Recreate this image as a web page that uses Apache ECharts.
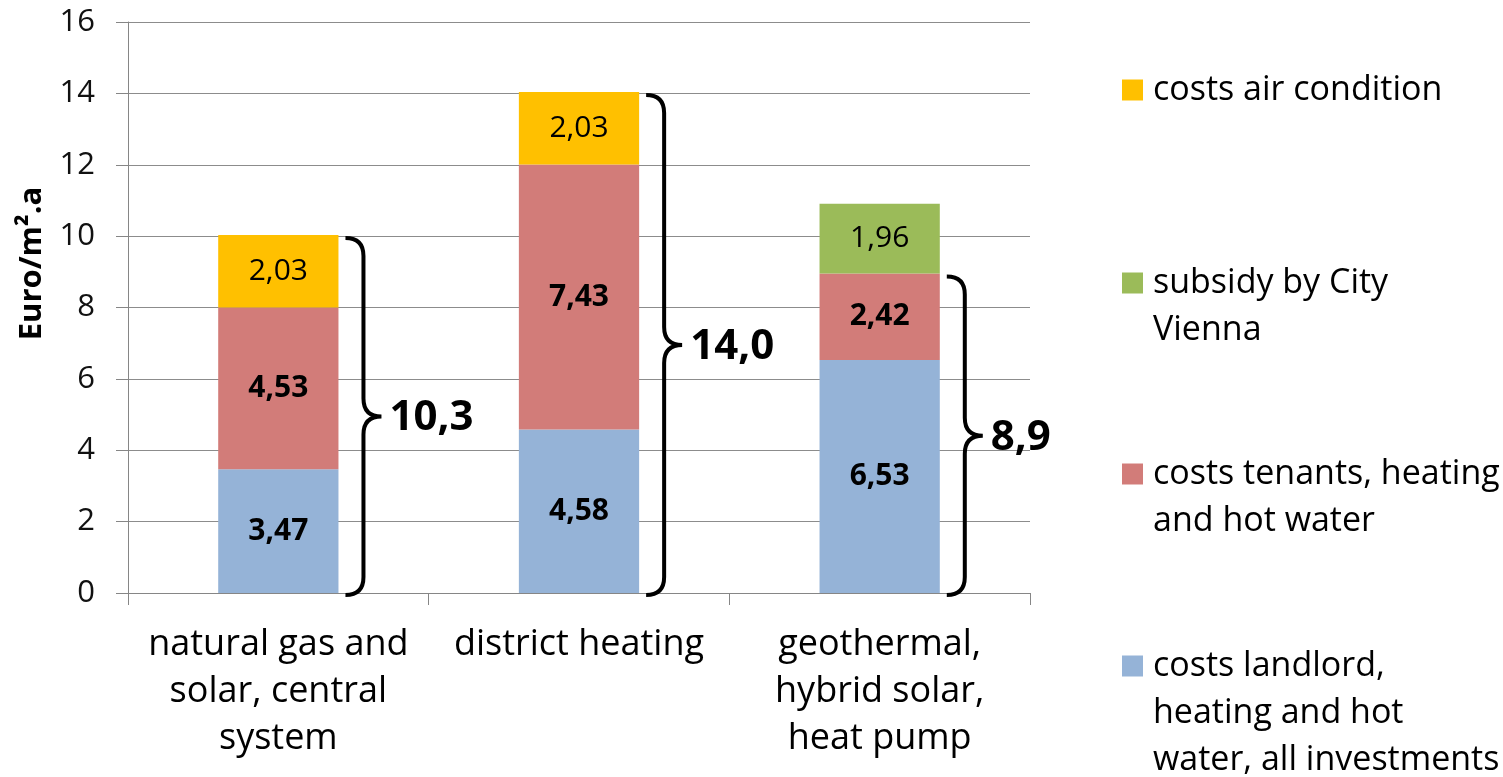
<!DOCTYPE html>
<html>
<head>
<meta charset="utf-8">
<script src="https://cdn.jsdelivr.net/npm/echarts@6/dist/echarts.min.js"></script>
<style>
html,body{margin:0;padding:0;background:#fff;}
#chart{width:1503px;height:777px;}
</style>
</head>
<body>
<div id="chart"></div>
<script>
var categories = ['natural gas and\nsolar, central\nsystem', 'district heating', 'geothermal,\nhybrid solar,\nheat pump'];
var landlord = [3.47, 4.58, 6.53];
var tenants = [4.53, 7.43, 2.42];
var airCondition = [2.03, 2.03, null];
var subsidy = [null, null, 1.96];
var braceTop = [10.03, 14.04, 8.95];
var braceLabels = ['10,3', '14,0', '8,9'];
var yTicks = { min: 0, max: 16, interval: 2 };

var seriesNames = {
  landlord: 'costs landlord,\nheating and hot\nwater, all investments',
  tenants: 'costs tenants, heating\nand hot water',
  air: 'costs air condition',
  subsidy: 'subsidy by City\nVienna'
};

var FONT = '"Open Sans", "Noto Sans", sans-serif';
var LH = 47;
var chart = echarts.init(document.getElementById('chart'));

function fmt(p) { return p.value == null ? '' : p.value.toFixed(2).replace('.', ','); }

function barLabel(bold) {
  return { show: true, position: 'inside', formatter: fmt, color: '#000', fontSize: 30, fontFamily: FONT, fontWeight: bold ? 'bold' : 'normal' };
}

// legend text: first line aligned with the marker (leading blank lines balance the block)
function legendText(name) {
  var lines = name.split('\n');
  var out = [];
  for (var k = 0; k < lines.length - 1; k++) out.push('{t|\u00a0}');
  lines.forEach(function (l) { out.push('{t|' + l + '}'); });
  return out.join('\n');
}

function legendFor(name, centerY) {
  var n = name.split('\n').length;
  return {
    data: [name], left: 1122, top: centerY - (2 * n - 1) * LH / 2, orient: 'vertical', padding: 0,
    icon: 'rect', itemWidth: 21, itemHeight: 21, itemGap: 0, selectedMode: false,
    formatter: legendText,
    textStyle: {
      fontSize: 34, fontFamily: FONT, color: '#000', lineHeight: LH,
      rich: { t: { fontSize: 34, fontFamily: FONT, color: '#000', lineHeight: LH, padding: [0, 0, 0, 5] } }
    }
  };
}

var option = {
  animation: false,
  grid: { left: 128, right: 473, top: 22, bottom: 184, containLabel: false },
  legend: [
    legendFor(seriesNames.air, 90),
    legendFor(seriesNames.subsidy, 283),
    legendFor(seriesNames.tenants, 474),
    legendFor(seriesNames.landlord, 666)
  ],
  xAxis: {
    type: 'category', data: categories,
    axisLine: { lineStyle: { color: '#868686', width: 1 } },
    axisTick: { show: true, length: 12, alignWithLabel: false, lineStyle: { color: '#868686' } },
    axisLabel: { margin: 28, fontSize: 36, lineHeight: LH, color: '#000', fontFamily: FONT, interval: 0, align: 'center' }
  },
  yAxis: {
    type: 'value', min: yTicks.min, max: yTicks.max, interval: yTicks.interval,
    name: 'Euro/m².a', nameLocation: 'middle', nameGap: 80, nameRotate: 90,
    nameTextStyle: { fontSize: 31, fontWeight: 'bold', fontFamily: FONT, color: '#000', padding: [0, 0, 0, 88] },
    axisLine: { show: true, lineStyle: { color: '#868686', width: 1 } },
    axisTick: { show: true, length: 12, lineStyle: { color: '#868686' } },
    axisLabel: { margin: 33, fontSize: 31, color: '#111', fontFamily: FONT },
    splitLine: { lineStyle: { color: '#8c8c8c', width: 1 } }
  },
  series: [
    { name: seriesNames.landlord, type: 'bar', stack: 's', data: landlord, barWidth: '40%', itemStyle: { color: '#95B3D7' }, label: barLabel(true) },
    { name: seriesNames.tenants, type: 'bar', stack: 's', data: tenants, itemStyle: { color: '#D27C79' }, label: barLabel(true) },
    { name: seriesNames.air, type: 'bar', stack: 's', data: airCondition, itemStyle: { color: '#FFC000' }, label: barLabel(false) },
    { name: seriesNames.subsidy, type: 'bar', stack: 's', data: subsidy, itemStyle: { color: '#9BBB59' }, label: barLabel(false) },
    {
      type: 'custom', z: 10, clip: false,
      data: braceTop.map(function (v, i) { return [i, v]; }),
      encode: { x: 0, y: 1 },
      renderItem: function (params, api) {
        var i = api.value(0), total = api.value(1);
        var top = api.coord([i, total]);
        var bot = api.coord([i, 0]);
        var bw = api.size([1, 0])[0] * 0.4;
        var x0 = top[0] + bw / 2 + 7;
        var xs = x0 + 18, xt = x0 + 36;
        var yT = top[1] + 3, yB = bot[1] + 2, yM = (yT + yB) / 2;
        var r = 18;
        var p = 'M' + x0 + ',' + yT +
          ' Q' + xs + ',' + yT + ' ' + xs + ',' + (yT + r) +
          ' L' + xs + ',' + (yM - r) +
          ' Q' + xs + ',' + yM + ' ' + xt + ',' + yM +
          ' Q' + xs + ',' + yM + ' ' + xs + ',' + (yM + r) +
          ' L' + xs + ',' + (yB - r) +
          ' Q' + xs + ',' + yB + ' ' + x0 + ',' + yB;
        return {
          type: 'group',
          children: [
            { type: 'path', shape: { pathData: p }, style: { fill: 'none', stroke: '#000', lineWidth: 4 } },
            { type: 'text', x: xt + 8, y: yM + 2, style: { text: braceLabels[params.dataIndex], font: 'bold 42px ' + FONT, fill: '#000', align: 'left', verticalAlign: 'middle' } }
          ]
        };
      }
    }
  ]
};
chart.setOption(option);
</script>
</body>
</html>
